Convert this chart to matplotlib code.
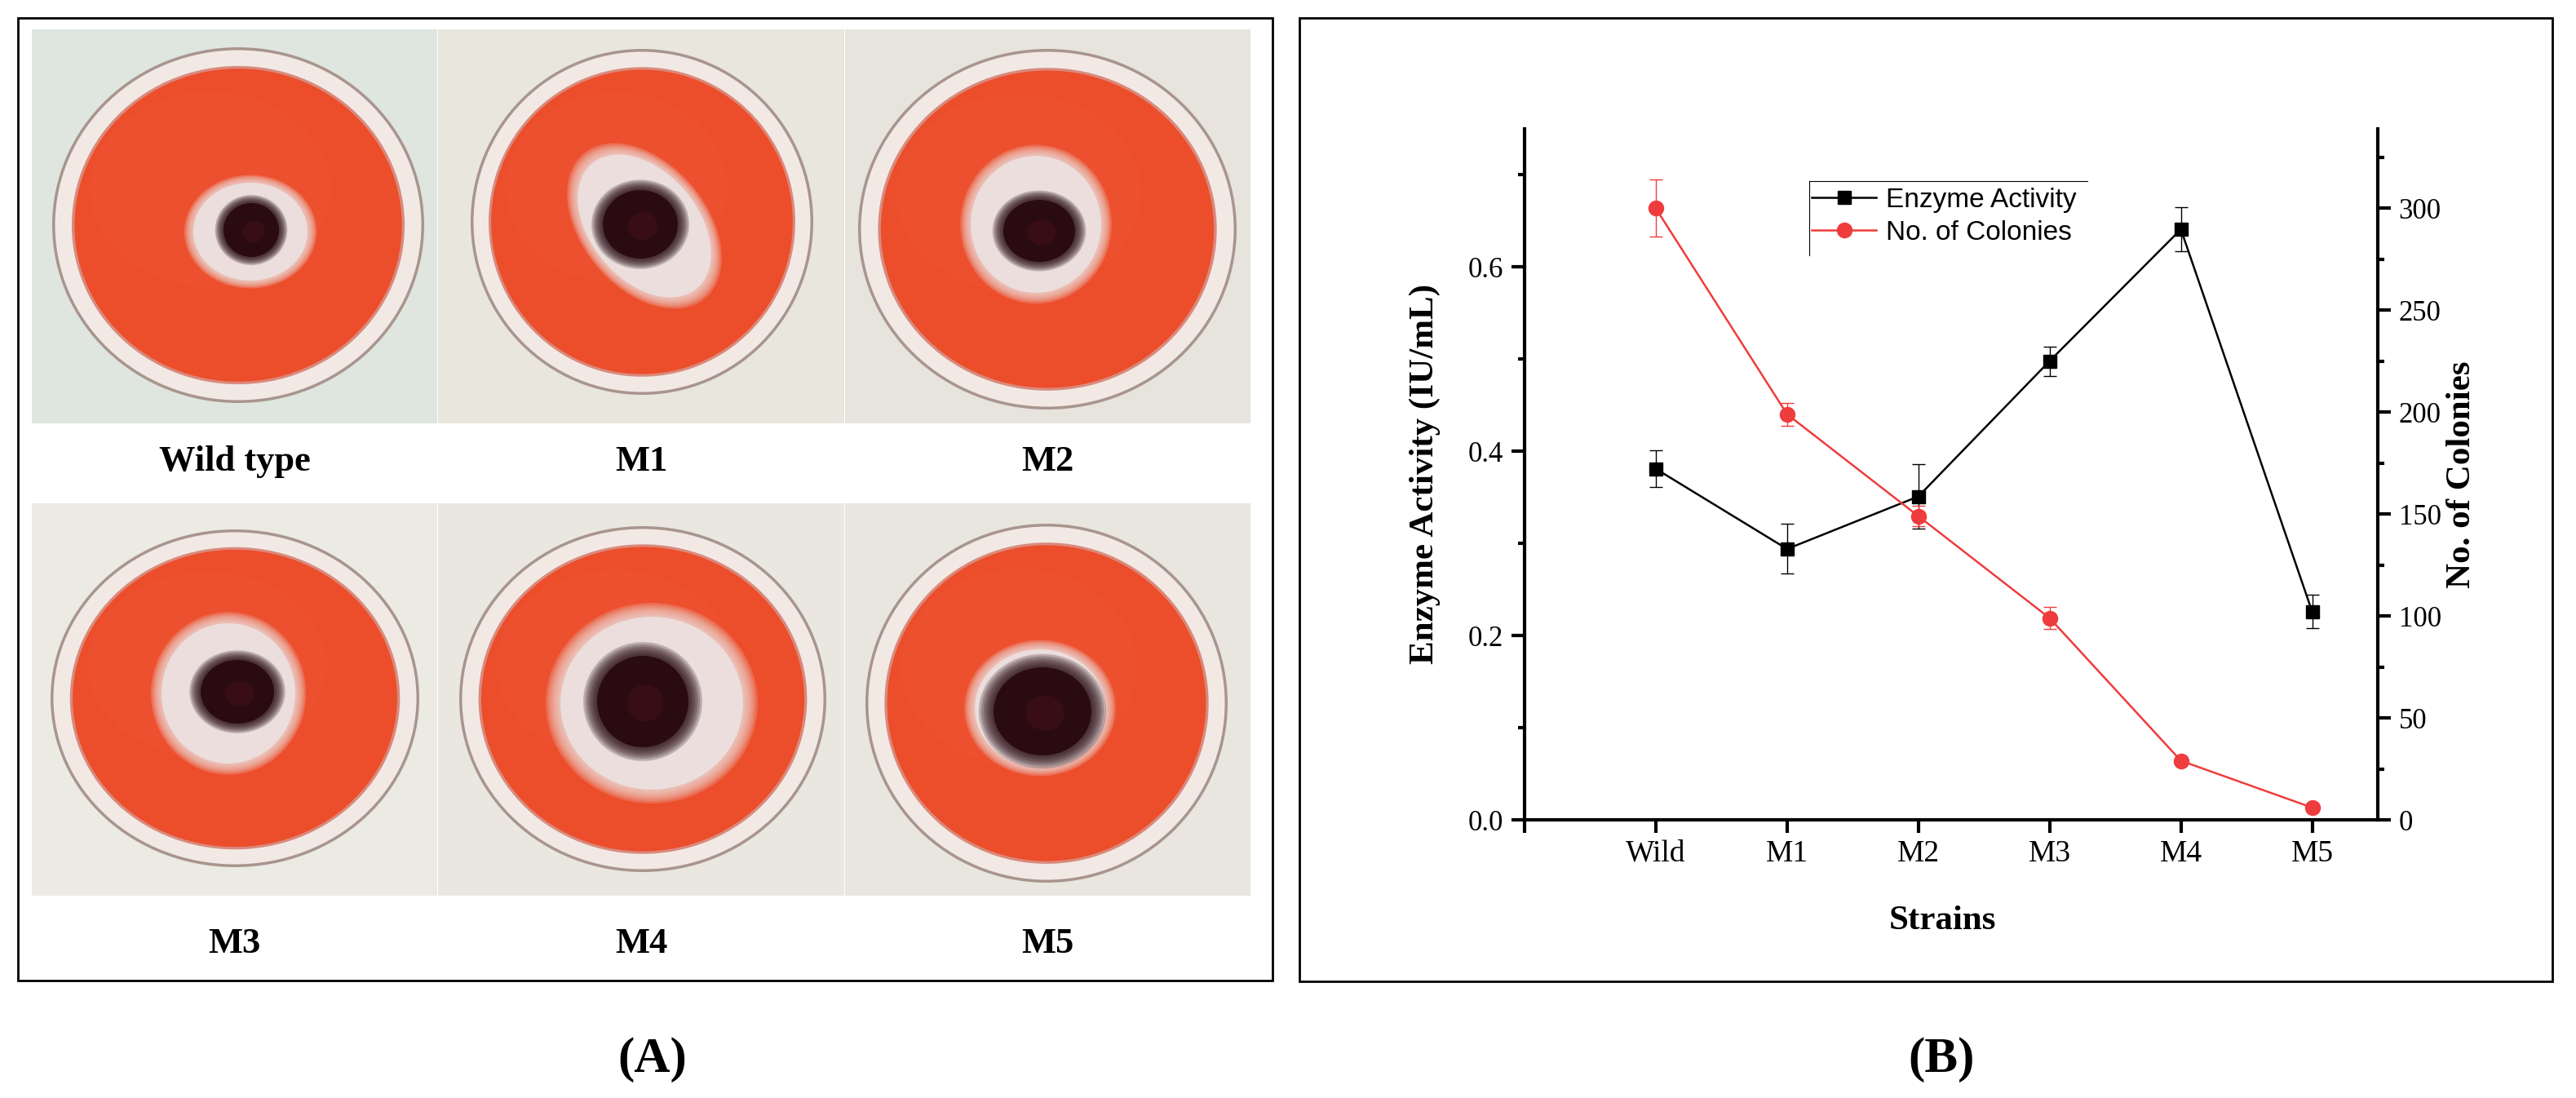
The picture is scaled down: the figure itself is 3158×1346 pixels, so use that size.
import numpy as np
import matplotlib.pyplot as plt
from matplotlib.patches import Ellipse, Rectangle
from matplotlib.lines import Line2D
from matplotlib.ticker import MultipleLocator

plt.rcParams['font.family'] = ['Liberation Serif', 'DejaVu Serif']

W, H = 3158, 1346

# ---- data (panel B) ----
strains = ['Wild', 'M1', 'M2', 'M3', 'M4', 'M5']
enzyme = [0.381, 0.294, 0.351, 0.498, 0.641, 0.226]
enzyme_err = [0.020, 0.027, 0.035, 0.016, 0.024, 0.018]
colonies = [300, 199, 149, 99, 29, 6]
colonies_err = [14, 5.5, 5, 5.4, 0, 0]

# ---- panel A captions ----
plate_labels = ['Wild type', 'M1', 'M2', 'M3', 'M4', 'M5']

fig = plt.figure(figsize=(W / 100, H / 100), dpi=100)


def fig_axes(x0, y0, x1, y1):
    # pixel box (y down) -> figure axes
    return fig.add_axes([x0 / W, 1 - y1 / H, (x1 - x0) / W, (y1 - y0) / H])


def soft(ax, cx, cy, rx, ry, color, angle=0, spread=0.2, n=7):
    for i in range(n):
        s = 1 + spread * (1 - i / (n - 1))
        a = 0.22 if i < n - 1 else 1.0
        ax.add_patch(Ellipse((cx, cy), 2 * rx * s, 2 * ry * s, angle=angle,
                             fc=color, ec='none', alpha=a))


# ======================
# PANEL A : plate sketches
# ======================
cols = [(39, 536), (537, 1035), (1036, 1533)]
rows = [(36, 519), (617, 1098)]
tile_bg = ['#dfe5df', '#e8e6dd', '#e6e4dc', '#ebeae3', '#e9e7df', '#e8e6de']
# dish (cx, cy, rx, ry), halo (cx, cy, rx, ry, angle), colony (cx, cy, rx, ry)
dishes = [(253, 240, 228, 218), (250, 236, 210, 212), (248, 245, 232, 221),
          (249, 239, 226, 207), (251, 240, 225, 212), (247, 245, 222, 220)]
halos = [(268, 248, 70, 60, 0), (253, 241, 100, 66, 50), (234, 239, 80, 84, 0),
         (241, 233, 82, 86, 0), (262, 245, 112, 106, 0), (239, 251, 80, 72, 0)]
cols_c = [(269, 246, 34, 33), (248, 239, 46, 42), (238, 247, 44, 38),
          (252, 231, 45, 39), (251, 243, 56, 56), (242, 255, 60, 54)]

label_y = [566, 1157]
for k, lab in enumerate(plate_labels):
    r, c = divmod(k, 3)
    x0, x1 = cols[c]
    y0, y1 = rows[r]
    tw, th = x1 - x0, y1 - y0
    t = fig_axes(x0, y0, x1, y1)
    t.set_xlim(0, tw)
    t.set_ylim(th, 0)
    t.axis('off')
    t.add_patch(Rectangle((0, 0), tw, th, fc=tile_bg[k], ec='none'))
    cx, cy, rx, ry = dishes[k]
    t.add_patch(Ellipse((cx, cy), 2 * rx, 2 * ry, fc='#a8958d', ec='none'))
    t.add_patch(Ellipse((cx, cy), 2 * rx - 7, 2 * ry - 7, fc='#f2e9e5', ec='none'))
    t.add_patch(Ellipse((cx, cy), 2 * rx * 0.895, 2 * ry * 0.895, fc='#d98a7c', ec='none'))
    t.add_patch(Ellipse((cx, cy), 2 * rx * 0.88, 2 * ry * 0.88, fc='#ec4d2b', ec='none'))
    t.add_patch(Ellipse((cx - rx * 0.15, cy - ry * 0.2), rx * 1.3, ry * 1.1, fc='#f26a45',
                        ec='none', alpha=0.12))
    hx, hy, hrx, hry, ang = halos[k]
    soft(t, hx, hy, hrx, hry, '#ebdedc', angle=ang, spread=0.16)
    ox, oy, orx, ory = cols_c[k]
    soft(t, ox, oy, orx * 1.05, ory * 1.05, '#cdc6ca', spread=0.25)
    soft(t, ox, oy, orx, ory, '#2a0b12', spread=0.3)
    t.add_patch(Ellipse((ox + 3, oy + 2), orx * 0.8, ory * 0.8, fc='#4e1119', ec='none', alpha=0.4))
    fig.text((x0 + x1) / 2 / W, 1 - label_y[r] / H, lab, fontsize=32, fontweight='bold',
             ha='center', va='center')

# ======================
# PANEL B : enzyme activity / colonies
# ======================
x = np.arange(1, len(strains) + 1)
red = '#ef3c3c'

ax = fig_axes(1869, 158, 2915, 1005)
ax.errorbar(x, enzyme, yerr=enzyme_err, fmt='none', ecolor='black',
            elinewidth=1.0, capsize=6, capthick=1.0)
l1, = ax.plot(x, enzyme, color='black', marker='s', ms=11.5, lw=1.8,
              label='Enzyme Activity')

ax2 = ax.twinx()
ax2.errorbar(x, colonies, yerr=colonies_err, fmt='none', ecolor=red,
             elinewidth=1.0, capsize=6, capthick=1.0)
l2, = ax2.plot(x, colonies, color=red, marker='o', ms=13, lw=1.8,
               label='No. of Colonies')

ax.set_xlim(0, 6.5)
ax.set_ylim(0, 0.75)
ax2.set_ylim(0, 339)
ax.set_xticks(range(0, len(strains) + 1))
ax.set_xticklabels([''] + strains)
ax.yaxis.set_major_locator(MultipleLocator(0.2))
ax.yaxis.set_minor_locator(MultipleLocator(0.1))
ax2.yaxis.set_major_locator(MultipleLocator(50))
ax2.yaxis.set_minor_locator(MultipleLocator(25))

for a in (ax, ax2):
    for s in a.spines.values():
        s.set_linewidth(3)
    a.tick_params(which='major', direction='out', length=11.5, width=3)
    a.tick_params(which='minor', direction='out', length=6, width=3)
ax.spines['top'].set_visible(False)
ax.spines['right'].set_visible(False)
ax2.spines['top'].set_visible(False)
ax2.spines['left'].set_visible(False)
ax2.spines['bottom'].set_visible(False)
ax.tick_params(axis='x', labelsize=27, pad=6)
ax.tick_params(axis='y', labelsize=25, pad=7)
ax2.tick_params(axis='y', labelsize=25, pad=7)

ax.set_ylabel('Enzyme Activity (IU/mL)', fontsize=31, fontweight='bold', va='center')
ax.yaxis.set_label_coords((1747 - 1869) / 1046, 0.5)
ax2.set_ylabel('No. of Colonies', fontsize=31, fontweight='bold', va='center', rotation=90)
ax2.yaxis.set_label_coords((3018 - 1869) / 1046, 0.5)
ax.set_xlabel('Strains', fontsize=31, fontweight='bold', va='center')
ax.xaxis.set_label_coords((2381 - 1869) / 1046, (1005 - 1129) / 847)

ax2.legend(handles=[l1, l2], loc='upper left', bbox_to_anchor=(2221 / W, 1 - 230 / H),
           bbox_transform=fig.transFigure, frameon=False,
           prop={'family': 'Liberation Sans', 'size': 24}, handlelength=2.37,
           handletextpad=0.35, labelspacing=0.27, borderpad=0, borderaxespad=0)
fig.add_artist(Line2D([2218 / W, 2218 / W], [1 - 222 / H, 1 - 313 / H], color='black', lw=0.8))
fig.add_artist(Line2D([2218 / W, 2559 / W], [1 - 222 / H, 1 - 222 / H], color='black', lw=0.8))

# panel frames and letters
fig.add_artist(Rectangle((22 / W, 1 - 1202 / H), (1560 - 22) / W, (1202 - 22) / H,
                         transform=fig.transFigure, fill=False, lw=2, ec='black'))
fig.add_artist(Rectangle((1593 / W, 1 - 1203 / H), (3129 - 1593) / W, (1203 - 22) / H,
                         transform=fig.transFigure, fill=False, lw=2, ec='black'))
fig.text(800 / W, 1 - 1299 / H, '(A)', fontsize=44, fontweight='bold', ha='center', va='center')
fig.text(2380 / W, 1 - 1299 / H, '(B)', fontsize=44, fontweight='bold', ha='center', va='center')

fig.savefig('out.png', dpi=100, facecolor='white')
